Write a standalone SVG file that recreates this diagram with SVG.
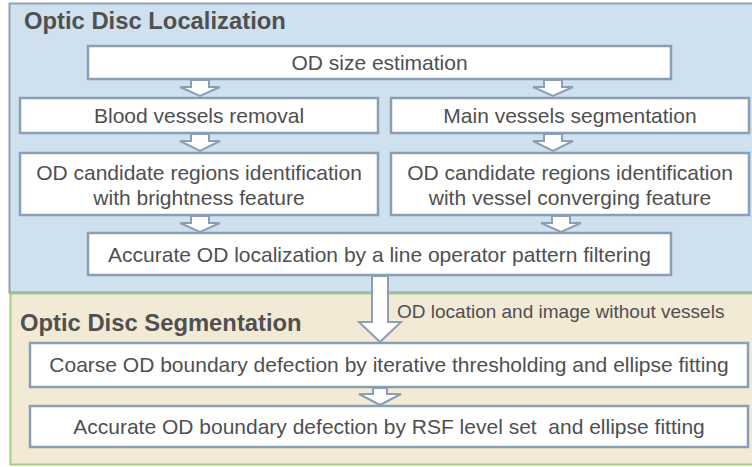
<svg xmlns="http://www.w3.org/2000/svg" width="752" height="467" viewBox="0 0 752 467">
<style>
.t{font-family:"Liberation Sans",Arial,sans-serif;font-size:21px;fill:#4f4f4f;text-anchor:middle;white-space:pre}
.h{font-family:"Liberation Sans",Arial,sans-serif;font-size:23.8px;font-weight:bold;fill:#505050}
.box{fill:#ffffff;stroke:#8a9fb4;stroke-width:2.5}
.arr{fill:#ffffff;stroke:#8a9fb4;stroke-width:2;stroke-linejoin:miter}
</style>
<rect width="752" height="467" fill="#ffffff"/>
<g id="panel-localization">
<rect x="9.5" y="3.5" width="752" height="289" fill="#cfe0ef" stroke="#8fa1b3" stroke-width="2"/>
<text class="h" x="24" y="29">Optic Disc Localization</text>
</g>
<g id="panel-segmentation">
<rect x="10.5" y="293.5" width="752" height="171" fill="#f3ead5" stroke="#9ecd84" stroke-width="2"/>
<text class="h" x="20" y="331">Optic Disc Segmentation</text>
</g>
<g id="n1"><rect class="box" x="88" y="46" width="583" height="33"/><text class="t" x="379.5" y="70">OD size estimation</text></g>
<g id="n2"><rect class="box" x="20" y="98" width="358" height="35"/><text class="t" x="199" y="123">Blood vessels removal</text></g>
<g id="n3"><rect class="box" x="391" y="98" width="358" height="35"/><text class="t" x="570" y="123">Main vessels segmentation</text></g>
<g id="n4"><rect class="box" x="20" y="153" width="358" height="62"/><text class="t" x="199" y="180">OD candidate regions identification</text><text class="t" x="199" y="205">with brightness feature</text></g>
<g id="n5"><rect class="box" x="391" y="153" width="358" height="62"/><text class="t" x="570" y="180">OD candidate regions identification</text><text class="t" x="570" y="205">with vessel converging feature</text></g>
<g id="n6"><rect class="box" x="88" y="233" width="583" height="42"/><text class="t" x="379.5" y="262">Accurate OD localization by a line operator pattern filtering</text></g>
<g id="n7"><rect class="box" x="30" y="343" width="718" height="44"/><text class="t" x="389" y="372">Coarse OD boundary defection by iterative thresholding and ellipse fitting</text></g>
<g id="n8"><rect class="box" x="30" y="406" width="718" height="41"/><text class="t" x="389" y="434">Accurate OD boundary defection by RSF level set  and ellipse fitting</text></g>
<g id="connectors">
<path class="arr" d="M191,80 H209 V87 H220 L200,96 L180,87 H191 Z"/>
<path class="arr" d="M544,80 H562 V87 H573 L553,96 L533,87 H544 Z"/>
<path class="arr" d="M191,134 H209 V141 H220 L200,151 L180,141 H191 Z"/>
<path class="arr" d="M544,134 H562 V141 H573 L553,151 L533,141 H544 Z"/>
<path class="arr" d="M191,216 H209 V223 H220 L200,232 L180,223 H191 Z"/>
<path class="arr" d="M552,216 H570 V223 H581 L561,232 L541,223 H552 Z"/>
<path class="arr" d="M372,276 H388 V322 H401 L380,342 L359,322 H372 Z"/>
<path class="arr" d="M373,388 H387 V394 H401 L380,405 L359,394 H373 Z"/>
<text x="397" y="318" style="font-family:'Liberation Sans',Arial,sans-serif;font-size:19px;fill:#4f4f4f">OD location and image without vessels</text>
</g>
</svg>
